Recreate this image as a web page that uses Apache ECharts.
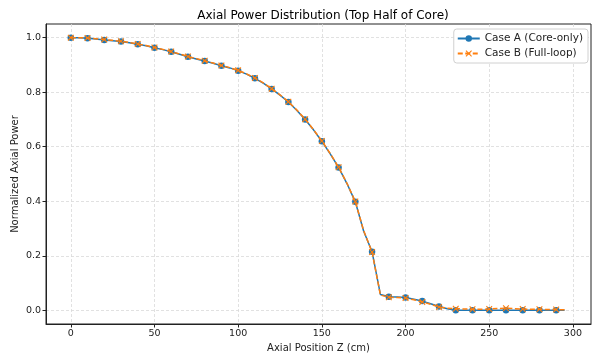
<!DOCTYPE html>
<html><head><meta charset="utf-8">
<script src="https://cdn.jsdelivr.net/npm/echarts@6/dist/echarts.min.js"></script>
<style>html,body{margin:0;padding:0;background:#fff}#c{width:593px;height:354px}</style>
</head><body><div id="c"></div>
<script>
const zPositions = [0,5,10,15,20,25,30,35,40,45,50,55,60,65,70,75,80,85,90,95,100,105,110,115,120,125,130,135,140,145,150,155,160,165,170,175,180,185,190,195,200,205,210,215,220,225,230,235,240,245,250,255,260,265,270,275,280,285,290,295];
const caseA = [1.000,1.000,0.998,0.995,0.991,0.989,0.986,0.981,0.976,0.970,0.963,0.956,0.948,0.939,0.930,0.922,0.914,0.906,0.897,0.889,0.879,0.866,0.851,0.833,0.812,0.789,0.764,0.734,0.700,0.662,0.620,0.574,0.524,0.465,0.398,0.290,0.215,0.058,0.050,0.049,0.047,0.041,0.034,0.024,0.014,0.006,0.000,0.000,0.000,0.000,0.000,0.000,0.000,0.000,0.000,0.000,0.000,0.000,0.000,0.000];
const caseB = [1.000,1.000,0.999,0.996,0.993,0.990,0.987,0.982,0.977,0.971,0.964,0.957,0.949,0.940,0.931,0.923,0.915,0.907,0.898,0.890,0.880,0.867,0.852,0.834,0.813,0.790,0.765,0.735,0.701,0.663,0.621,0.575,0.525,0.466,0.399,0.292,0.214,0.056,0.048,0.047,0.045,0.039,0.031,0.022,0.012,0.008,0.006,0.005,0.004,0.004,0.005,0.007,0.008,0.006,0.005,0.004,0.004,0.003,0.003,0.002];
const xTicks = [0,50,100,150,200,250,300];
const yTicks = [0,0.2,0.4,0.6,0.8,1.0];
const seriesNames = ['Case A (Core-only)','Case B (Full-loop)'];
const titleText = 'Axial Power Distribution (Top Half of Core)';
const xLabel = 'Axial Position Z (cm)';
const yLabel = 'Normalized Axial Power';

const FONT = 'DejaVu Sans';
const xMark = 'path://M0,1.2 L1.2,0 L5,3.8 L8.8,0 L10,1.2 L6.2,5 L10,8.8 L8.8,10 L5,6.2 L1.2,10 L0,8.8 L3.8,5 Z';
const chart = echarts.init(document.getElementById('c'), null, {renderer:'canvas'});
const gridLine = {show:true, lineStyle:{color:'#d9d9d9', type:[3,2], width:0.8}};
const every2 = (v, p) => (p.dataIndex % 2 === 0 ? 6.5 : 0);
chart.setOption({
  animation:false,
  backgroundColor:'#fff',
  title:{text:titleText, left:318, top:5, textAlign:'center',
    textStyle:{fontFamily:FONT, fontSize:12, fontWeight:'normal', color:'#000'}},
  legend:{orient:'vertical', right:5, top:29, itemWidth:22, itemHeight:8, itemGap:4,
    padding:[4,5,4,3], backgroundColor:'#fff', borderColor:'#d0d0d0', borderWidth:1, borderRadius:3,
    textStyle:{fontFamily:FONT, fontSize:10.5, color:'#222'},
    data:seriesNames},
  grid:{left:46, right:2, top:24, bottom:30, outerBoundsMode:'none', containLabel:false,
    show:true, borderColor:'#222', borderWidth:1, backgroundColor:'transparent'},
  xAxis:{type:'value', min:-14.8, max:310.8,
    name:xLabel, nameLocation:'middle', nameGap:18,
    nameTextStyle:{fontFamily:FONT, fontSize:10, color:'#222'},
    axisLine:{show:true, onZero:false, lineStyle:{color:'#222', width:1}},
    axisTick:{show:true, customValues:xTicks, length:3.5, lineStyle:{color:'#222'}},
    axisLabel:{customValues:xTicks, fontFamily:FONT, fontSize:9.5, color:'#222', margin:5},
    splitLine:gridLine},
  yAxis:{type:'value', min:-0.05, max:1.05,
    name:yLabel, nameLocation:'middle', nameGap:26, nameMoveOverlap:false,
    nameTextStyle:{fontFamily:FONT, fontSize:10, color:'#222'},
    axisLine:{show:true, onZero:false, lineStyle:{color:'#222', width:1}},
    axisTick:{show:true, customValues:yTicks, length:3.5, lineStyle:{color:'#222'}},
    axisLabel:{customValues:yTicks, fontFamily:FONT, fontSize:9.5, color:'#222', margin:5,
      formatter:v=>v.toFixed(1)},
    splitLine:gridLine},
  series:[
    {name:seriesNames[0], type:'line', data:zPositions.map((z,i)=>[z,caseA[i]]),
     symbol:'circle', symbolSize:every2, showSymbol:true,
     lineStyle:{color:'#1f77b4', width:1.5}, itemStyle:{color:'#1f77b4'}, z:2},
    {name:seriesNames[1], type:'line', data:zPositions.map((z,i)=>[z,caseB[i]]),
     symbol:xMark, symbolSize:every2, showSymbol:true,
     lineStyle:{color:'#ff7f0e', width:1.5, type:[5,2.5]}, itemStyle:{color:'#ff7f0e'}, z:3}
  ]
});
</script></body></html>
